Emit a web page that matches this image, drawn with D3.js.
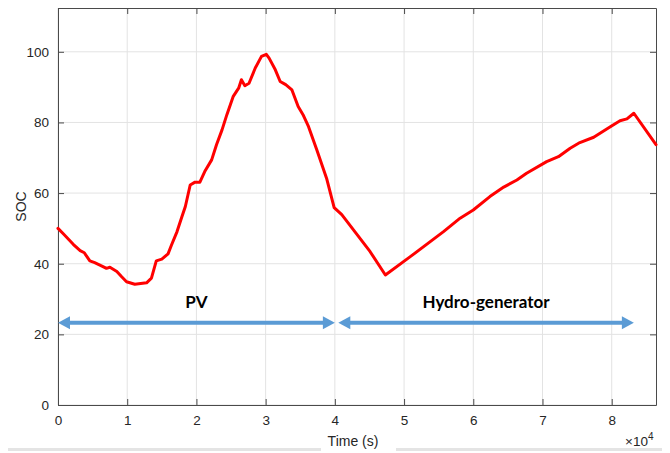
<!DOCTYPE html>
<html>
<head>
<meta charset="utf-8">
<script src="https://cdn.jsdelivr.net/npm/d3@7"></script>
<style>
  html, body { margin: 0; padding: 0; background: #fff; }
  svg { display: block; }
</style>
</head>
<body>
<svg id="chart" width="670" height="453"></svg>
<script>
// ---- data ----
const timeSec = [0, 800, 2200, 3200, 3800, 4600, 5300, 6500, 7000, 7500, 8500, 9200, 9900, 11100, 12800, 13500,
  14200, 15000, 15900, 16400, 17200, 17900, 18400, 19100, 19800, 20500, 21200, 22200, 22900, 23700, 24400,
  25300, 26100, 26500, 27000, 27600, 28500, 29400, 30100, 30500, 31400, 32100, 32900, 33800, 34700, 35400,
  36200, 37400, 38800, 39900, 41000, 45100, 47300, 50900, 55700, 58100, 60000, 62400, 64400, 66300, 67700,
  70600, 72300, 74000, 75400, 77400, 79800, 81200, 82200, 83200, 86400];
const socValues = [50.0, 48.4, 45.5, 43.7, 43.1, 40.8, 40.3, 39.2, 38.7, 39.0, 37.8, 36.3, 34.9, 34.2, 34.6, 35.9,
  40.8, 41.3, 42.8, 45.3, 49.1, 53.3, 56.2, 62.3, 63.1, 63.1, 66.1, 69.4, 73.7, 77.9, 82.2,
  87.3, 89.7, 92.1, 90.4, 91.1, 95.4, 98.7, 99.3, 98.2, 94.9, 91.6, 90.7, 89.2, 84.5, 82.2,
  78.8, 72.2, 64.2, 55.9, 53.9, 43.4, 36.8, 42.0, 49.1, 52.9, 55.2, 59.0, 61.7, 63.7, 65.6,
  68.9, 70.3, 72.7, 74.3, 75.8, 78.8, 80.5, 81.0, 82.6, 73.7];
const xTicks = [0, 10000, 20000, 30000, 40000, 50000, 60000, 70000, 80000];
const xTickLabels = ["0", "1", "2", "3", "4", "5", "6", "7", "8"];
const yTicks = [0, 20, 40, 60, 80, 100];
const phaseLabels = ["PV", "Hydro-generator"];
const phaseStart = [0, 40500];
const phaseEnd = [40000, 83200];
const phaseSoc = 23.3;

// ---- layout ----
const svg = d3.select("#chart");
const L = 58, R = 656, T = 8, B = 405;
const x = d3.scaleLinear().domain([0, 86400]).range([L, R]);
const y = d3.scaleLinear().domain([0, 112.4]).range([B, T]);
const axisColor = "#4a4a4a";
const font = "'Liberation Sans', Arial, Helvetica, sans-serif";

// background
svg.append("rect").attr("x", L).attr("y", T).attr("width", R - L).attr("height", B - T).attr("fill", "#fff");

// grid
const grid = svg.append("g");
grid.selectAll(".gx").data(xTicks).enter().append("line")
  .attr("x1", d => x(d)).attr("x2", d => x(d)).attr("y1", T).attr("y2", B)
  .attr("stroke", "#e3e3e3").attr("stroke-width", 1);
grid.selectAll(".gy").data(yTicks).enter().append("line")
  .attr("x1", L).attr("x2", R).attr("y1", d => y(d)).attr("y2", d => y(d))
  .attr("stroke", "#e3e3e3").attr("stroke-width", 1);

// axes (ticks inward)
const xAxisB = d3.axisBottom(x).tickValues(xTicks).tickFormat((d, i) => xTickLabels[i]).tickSizeInner(-6).tickSizeOuter(0).tickPadding(10);
const xAxisT = d3.axisTop(x).tickValues(xTicks).tickFormat("").tickSizeInner(-6).tickSizeOuter(0);
const yAxisL = d3.axisLeft(y).tickValues(yTicks).tickSizeInner(-6).tickSizeOuter(0).tickPadding(9);
const yAxisR = d3.axisRight(y).tickValues(yTicks).tickFormat("").tickSizeInner(-6).tickSizeOuter(0);

function styleAxis(g) {
  g.selectAll("path").attr("stroke", axisColor);
  g.selectAll("line").attr("stroke", axisColor);
  g.selectAll("text").attr("fill", "#262626").style("font-family", font).style("font-size", "13.5px");
}
svg.append("g").attr("transform", `translate(0,${B})`).call(xAxisB).call(styleAxis);
svg.append("g").attr("transform", `translate(0,${T})`).call(xAxisT).call(styleAxis);
svg.append("g").attr("transform", `translate(${L},0)`).call(yAxisL).call(styleAxis);
svg.append("g").attr("transform", `translate(${R},0)`).call(yAxisR).call(styleAxis);

// data line
const pts = timeSec.map((t, i) => [t, socValues[i]]);
svg.append("path").datum(pts)
  .attr("d", d3.line().x(d => x(d[0])).y(d => y(d[1])))
  .attr("fill", "none").attr("stroke", "#ff0000").attr("stroke-width", 3)
  .attr("stroke-linejoin", "round").attr("stroke-linecap", "round");

// double arrows
const arrowColor = "#5b9bd5";
const headLen = 12, headHalf = 6.5;
phaseStart.forEach((s, i) => {
  const x0 = x(s), x1 = x(phaseEnd[i]), yy = y(phaseSoc);
  const g = svg.append("g");
  g.append("line").attr("x1", x0 + headLen - 1).attr("x2", x1 - headLen + 1).attr("y1", yy).attr("y2", yy)
    .attr("stroke", arrowColor).attr("stroke-width", 4);
  g.append("path").attr("d", `M${x0},${yy} L${x0 + headLen},${yy - headHalf} L${x0 + headLen},${yy + headHalf} Z`).attr("fill", arrowColor);
  g.append("path").attr("d", `M${x1},${yy} L${x1 - headLen},${yy - headHalf} L${x1 - headLen},${yy + headHalf} Z`).attr("fill", arrowColor);
  svg.append("text").attr("x", (x0 + x1) / 2).attr("y", 308).attr("text-anchor", "middle")
    .style("font-family", "Lato, 'Open Sans', sans-serif").style("font-weight", "bold").style("font-size", "17px")
    .attr("fill", "#000").text(phaseLabels[i]);
});

// bottom gray strips (artifact of source)
svg.append("rect").attr("x", 8).attr("y", 448).attr("width", 313).attr("height", 3).attr("fill", "#e4e4e4");
svg.append("rect").attr("x", 396).attr("y", 448).attr("width", 266).attr("height", 3).attr("fill", "#e4e4e4");

// axis labels
svg.append("text").attr("x", 353).attr("y", 446).attr("text-anchor", "middle")
  .style("font-family", font).style("font-size", "14px").attr("fill", "#262626").text("Time (s)");
svg.append("text").attr("transform", `translate(26,${(T + B) / 2}) rotate(-90)`).attr("text-anchor", "middle")
  .style("font-family", font).style("font-size", "14px").attr("fill", "#262626").text("SOC");
const ex = svg.append("text").attr("x", 625).attr("y", 446)
  .style("font-family", font).style("font-size", "13.5px").attr("fill", "#262626");
ex.append("tspan").text("\u00d710");
ex.append("tspan").attr("dy", -6).style("font-size", "10px").text("4");
</script>
</body>
</html>
